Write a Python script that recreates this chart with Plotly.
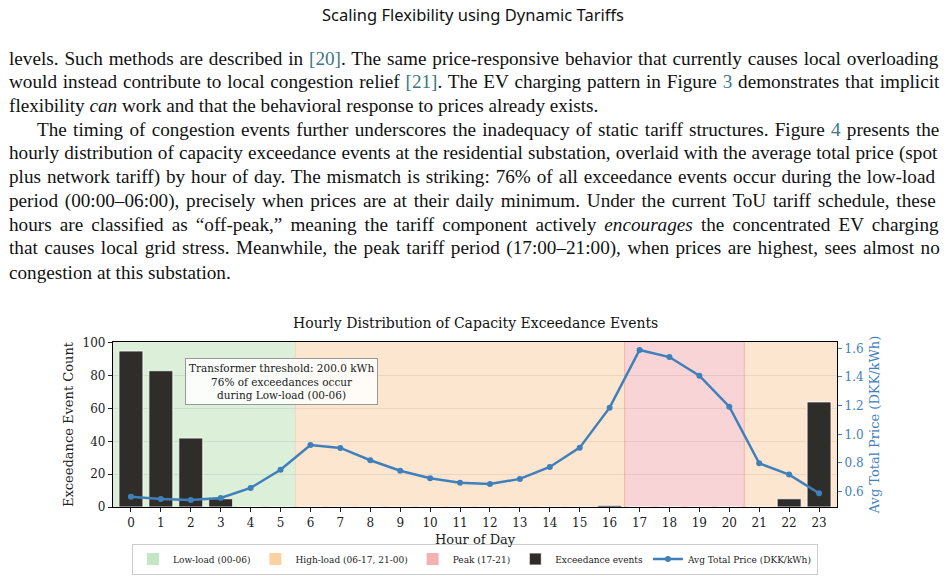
import re
import plotly.graph_objects as go

# ---------------- data ----------------
hours = list(range(24))
exceedance_counts = [95, 83, 42, 5, 0, 0, 0, 0, 0, 0, 0, 0, 0, 0, 0, 0, 1, 0, 0, 0, 0, 0, 5, 64]
avg_price = [0.565, 0.549, 0.542, 0.556, 0.626, 0.753, 0.926, 0.905, 0.819, 0.746, 0.693, 0.663,
             0.654, 0.689, 0.772, 0.907, 1.186, 1.588, 1.539, 1.409, 1.193, 0.798, 0.719, 0.589]
period_labels = ["Low-load (00-06)", "High-load (06-17, 21-00)", "Peak (17-21)", None]
period_starts = [-0.6, 5.5, 16.5, 20.5]
period_ends = [5.5, 16.5, 20.5, 23.6]
left_ticks = [0, 20, 40, 60, 80, 100]
right_ticks = [0.6, 0.8, 1.0, 1.2, 1.4, 1.6]

page_title = "Scaling Flexibility using Dynamic Tariffs"
LINK = "#3d7680"
body_lines = [
    "levels. Such methods are described in <span style='color:%s'>[20]</span>. The same price-responsive behavior that currently causes local overloading" % LINK,
    "would instead contribute to local congestion relief <span style='color:%s'>[21]</span>. The EV charging pattern in Figure <span style='color:%s'>3</span> demonstrates that implicit" % (LINK, LINK),
    "flexibility <i>can</i> work and that the behavioral response to prices already exists.",
    "The timing of congestion events further underscores the inadequacy of static tariff structures. Figure <span style='color:%s'>4</span> presents the" % LINK,
    "hourly distribution of capacity exceedance events at the residential substation, overlaid with the average total price (spot",
    "plus network tariff) by hour of day. The mismatch is striking: 76% of all exceedance events occur during the low-load",
    "period (00:00–06:00), precisely when prices are at their daily minimum. Under the current ToU tariff schedule, these",
    "hours are classified as “off-peak,” meaning the tariff component actively <i>encourages</i> the concentrated EV charging",
    "that causes local grid stress. Meanwhile, the peak tariff period (17:00–21:00), when prices are highest, sees almost no",
    "congestion at this substation.",
]

# ---------------- styles / geometry ----------------
period_fill = ["#dcefd9", "#fde6cf", "#f8d4d6", "#fde6cf"]
period_legend_col = ["#c4e6c2", "#fdd0a2", "#f4b1b4", None]
line_indent_px = [7, 7, 7, 35, 7, 7, 7, 7, 7, 7]
line_extra_px = [16, 17, 0, 23, 5, 21, 31, 46, 29, 0]   # justification slack per line

W, H = 947, 576
L, R, T, B = 113, 110, 342, 69
PW, PH = W - L - R, H - T - B


def px(xp):
    return (xp - L) / PW


def py(yp):
    return (H - B - yp) / PH


SERIF = "DejaVu Serif"
PRICE_COL = "#3f80bb"

fig = go.Figure()

for lab, legc in zip(period_labels, period_legend_col):
    if lab is None:
        continue
    fig.add_trace(go.Bar(x=[None], y=[None], name=lab, marker=dict(color=legc, line=dict(width=0))))

fig.add_trace(go.Bar(x=hours, y=exceedance_counts, width=0.8, name="Exceedance events",
                     marker=dict(color="#2e2d2a", line=dict(color="white", width=0.8))))

fig.add_trace(go.Scatter(x=hours, y=avg_price, yaxis="y2", mode="lines+markers",
                         name="Avg Total Price (DKK/kWh)",
                         line=dict(color=PRICE_COL, width=2.5),
                         marker=dict(color=PRICE_COL, size=6)))

shapes = []
for x0, x1, fill in zip(period_starts, period_ends, period_fill):
    shapes.append(dict(type="rect", xref="x", yref="paper", x0=x0, x1=x1, y0=0, y1=1,
                       fillcolor=fill, line=dict(width=0), layer="below"))
for xv, col in [(period_starts[1], "#f1d9bd"), (period_starts[2], "#f5b8ad"), (period_starts[3], "#f5b8ad")]:
    shapes.append(dict(type="line", xref="x", yref="paper", x0=xv, x1=xv, y0=0, y1=1,
                       line=dict(color=col, width=1.2), layer="below"))

annotations = []
annotations.append(dict(text=page_title, x=px(473), y=py(14), xref="paper", yref="paper",
                        showarrow=False, xanchor="center", yanchor="middle",
                        font=dict(family="Noto Sans", size=16.5, color="#111")))
y0 = 58
for i, txt in enumerate(body_lines):
    plain = re.sub(r"<[^>]+>", "", txt)
    nsp = max(plain.count(" "), 1)
    ws = line_extra_px[i] / nsp
    annotations.append(dict(text="<span style='word-spacing:%.2fpx'>%s</span>" % (ws, txt),
                            x=px(line_indent_px[i]), y=py(y0 + i * 23.8),
                            xref="paper", yref="paper", showarrow=False,
                            xanchor="left", yanchor="middle", align="left",
                            font=dict(family="Liberation Serif", size=19.2, color="#111")))
annotations.append(dict(text="Hourly Distribution of Capacity Exceedance Events", x=0.5, y=py(323),
                        xref="paper", yref="paper", showarrow=False, xanchor="center", yanchor="middle",
                        font=dict(family=SERIF, size=14, color="#111")))
annotations.append(dict(text="Hour of Day", x=0.5, y=py(539), xref="paper", yref="paper",
                        showarrow=False, xanchor="center", yanchor="middle",
                        font=dict(family=SERIF, size=13, color="#222")))
annotations.append(dict(text="Transformer threshold: 200.0 kWh<br>76% of exceedances occur<br>during Low-load (00-06)",
                        x=px(281), y=py(381), xref="paper", yref="paper", showarrow=False,
                        xanchor="center", yanchor="middle", align="center",
                        font=dict(family=SERIF, size=10.5, color="#222"),
                        bgcolor="rgba(255,255,255,0.85)", bordercolor="#999", borderwidth=1, borderpad=3))

fig.update_layout(
    width=W, height=H,
    margin=dict(l=L, r=R, t=T, b=B, pad=0, autoexpand=False),
    paper_bgcolor="white", plot_bgcolor="white",
    barmode="overlay",
    font=dict(family=SERIF, size=12, color="#222"),
    shapes=shapes, annotations=annotations,
    xaxis=dict(range=[-0.6, 23.6], tickmode="array", tickvals=hours, ticktext=[str(h) for h in hours],
               ticks="outside", ticklen=4, tickcolor="#222", showgrid=False, zeroline=False,
               showline=True, linecolor="black", linewidth=1.2, mirror=True,
               tickfont=dict(size=12)),
    yaxis=dict(range=[0, 100.5], tickmode="array", tickvals=left_ticks, ticks="outside", ticklen=4,
               tickcolor="#222", showgrid=True, gridcolor="rgba(140,140,140,0.18)", gridwidth=1,
               zeroline=False, showline=True, linecolor="black", linewidth=1.2,
               title=dict(text="Exceedance Event Count", font=dict(size=13), standoff=6),
               tickfont=dict(size=12)),
    yaxis2=dict(range=[0.493, 1.644], overlaying="y", side="right", tickmode="array",
                tickvals=right_ticks, tickformat=".1f", ticks="outside", ticklen=4,
                tickcolor=PRICE_COL, showgrid=False, zeroline=False, showline=True,
                linecolor="black", linewidth=1.2,
                title=dict(text="Avg Total Price (DKK/kWh)", font=dict(size=13, color=PRICE_COL), standoff=6),
                tickfont=dict(size=12, color=PRICE_COL)),
    legend=dict(orientation="h", x=0.5, xanchor="center",
                y=py(559), yanchor="middle",
                bgcolor="white", bordercolor="#cccccc", borderwidth=1,
                font=dict(family=SERIF, size=9, color="#222"), itemwidth=30,
                traceorder="normal", tracegroupgap=0),
    showlegend=True,
)

fig.write_html("out.html")
